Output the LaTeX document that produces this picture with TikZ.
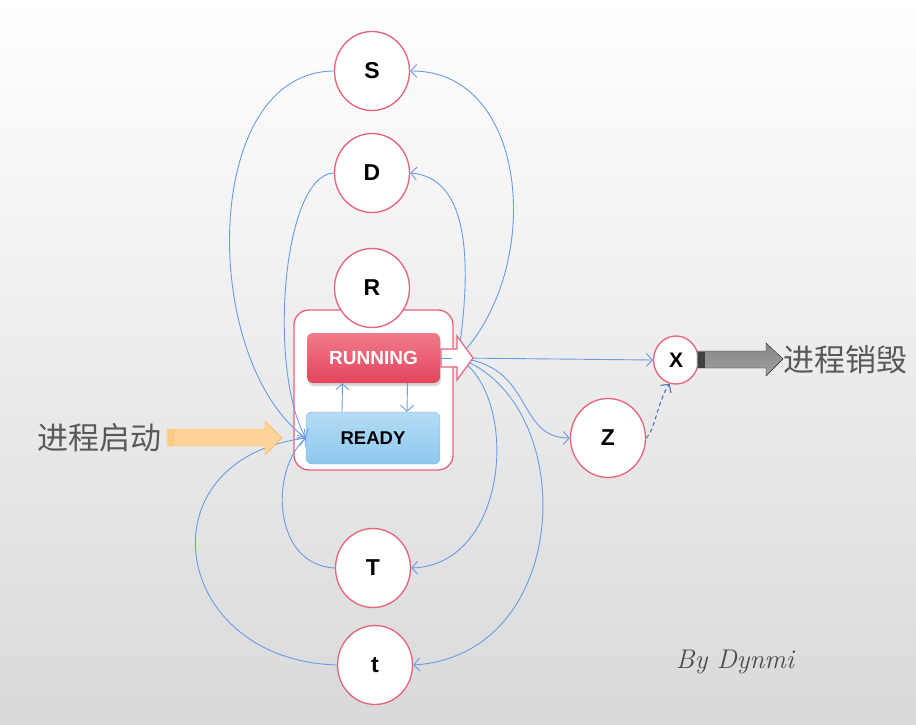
\documentclass[tikz,border=0pt]{standalone}
\usepackage{tikz}
\usepackage{xcolor}
\usepackage{fontspec}
\newfontfamily\labelfont{Liberation Sans}
\newfontfamily\cjk{Noto Sans CJK SC}
\usetikzlibrary{arrows.meta,shadows,shapes.geometric}
\definecolor{ring}{HTML}{E8607A}
\definecolor{linkblue}{HTML}{6A9BE8}
\definecolor{dashblue}{HTML}{4A76C0}
\definecolor{runtop}{HTML}{F27A8A}
\definecolor{runbot}{HTML}{E2455E}
\definecolor{readytop}{HTML}{B4DCF4}
\definecolor{readybot}{HTML}{8EC8EE}
\definecolor{readyline}{HTML}{6CB4E4}
\definecolor{txtgray}{HTML}{595959}
\definecolor{bgmid}{HTML}{F3F3F3}
\definecolor{bgbot}{HTML}{D9D9D9}
\definecolor{orangefill}{HTML}{FFD49A}
\definecolor{orangeline}{HTML}{F8B550}
\tikzstyle{state}=[ellipse,draw=ring,line width=1.3pt,fill=white,minimum width=75pt,minimum height=79pt,inner sep=0pt,font=\labelfont\bfseries\fontsize{23}{23}\selectfont]
\tikzstyle{link}=[draw=linkblue,line width=0.9pt,->,>={Straight Barb[length=6pt,width=13pt]}]
\tikzstyle{big}=[font=\cjk\fontsize{31}{31}\selectfont,text=txtgray,inner sep=0pt]

\begin{document}
\begin{tikzpicture}[x=1pt,y=-1pt]
      \shade[top color=white,middle color=bgmid,bottom color=bgbot] (0,0) rectangle (916,725);
      \useasboundingbox (0,0) rectangle (916,725);
      \node[draw=ring,line width=1.3pt,fill=white,rounded corners=15pt,minimum width=159pt,minimum height=160pt] (cpu) at (373.5,390) {};
      \node[rounded corners=6pt,top color=runtop,bottom color=runbot,minimum width=133pt,minimum height=50pt,text=white,font=\labelfont\bfseries\fontsize{19}{19}\selectfont,drop shadow={shadow xshift=1pt,shadow yshift=-3pt,opacity=.3}] (RUN) at (373.5,358) {RUNNING};
      \node[rounded corners=6pt,draw=readyline,top color=readytop,bottom color=readybot,minimum width=134pt,minimum height=52pt,font=\labelfont\bfseries\fontsize{18.5}{18.5}\selectfont] (READY) at (373,438) {READY};
      \node[state] (R) at (372,288) {R};
      \coordinate (out) at (458,358);
      \draw [link] ([xshift=-31pt]READY.north) -- ([xshift=-31pt]RUN.south);
      \draw [link] ([xshift=34pt]RUN.south) -- ([xshift=34pt]READY.north);
      \node[state] (S) at (372,71) {S};
      \node[state] (D) at (372,173) {D};
      \node[state] (T) at (373,568) {T};
      \node[state] (t) at (375,665) {t};
      \node[state] (Z) at (608,438) {Z};
      \node[state,minimum width=45pt,minimum height=48pt,font=\labelfont\bfseries\fontsize{21}{21}\selectfont] (X) at (676,360) {X};
      \draw [link] (out) .. controls (545,270) and (530,70) .. (S.east);
      \draw [link] (out) .. controls (468,290) and (478,178) .. (D.east);
      \draw [link] (out) .. controls (520,395) and (510,565) .. (T.east);
      \draw [link] (out) .. controls (580,400) and (575,655) .. (t.east);
      \draw [link] (out) .. controls (535,365) and (515,438) .. (Z.west);
      \draw [link] (out) -- (X.west);
      \draw [link] (S.west) .. controls (200,72) and (200,360) .. (READY.west);
      \draw [link] (D.west) .. controls (282,175) and (268,370) .. (READY.west);
      \draw [link] (T.west) .. controls (272,565) and (270,470) .. (READY.west);
      \draw [link] (t.west) .. controls (170,660) and (140,460) .. (READY.west);
      \draw [link,draw=dashblue,line width=1.1pt,dash pattern=on 4pt off 3pt] (Z.east) .. controls (655,430) and (658,400) .. (X.-105);
      \draw [ring,fill=white,line width=1.2pt] (441,349) -- (457,349) -- (457,336) -- (473,358) -- (457,380) -- (457,367) -- (441,367) -- cycle;
      \draw [linkblue,line width=0.9pt] (RUN.east) -- (452,358);
      \draw [orangeline,fill=orangefill] (167,429) -- (265,429) -- (265,421) -- (282,438) -- (265,455) -- (265,446) -- (167,446) -- cycle;
      \fill [orangeline!70] (168,430) rectangle (175,445.5);
      \draw [black!85,top color=gray!95,bottom color=gray!75] (697,351) -- (766,351) -- (766,343) -- (783,359) -- (766,376) -- (766,368) -- (697,368) -- cycle;
      \fill [black!75] (697.5,351.5) rectangle (705,367.5);
      \node[big,anchor=east] (start) at (162,438) {进程启动};
      \node[big,anchor=west] (stop) at (783,360) {进程销毁};
      \node[text=black!70,font=\itshape\fontsize{27}{27}\selectfont] (sign) at (735,662) {By Dynmi};
    \end{tikzpicture}
\end{document}
